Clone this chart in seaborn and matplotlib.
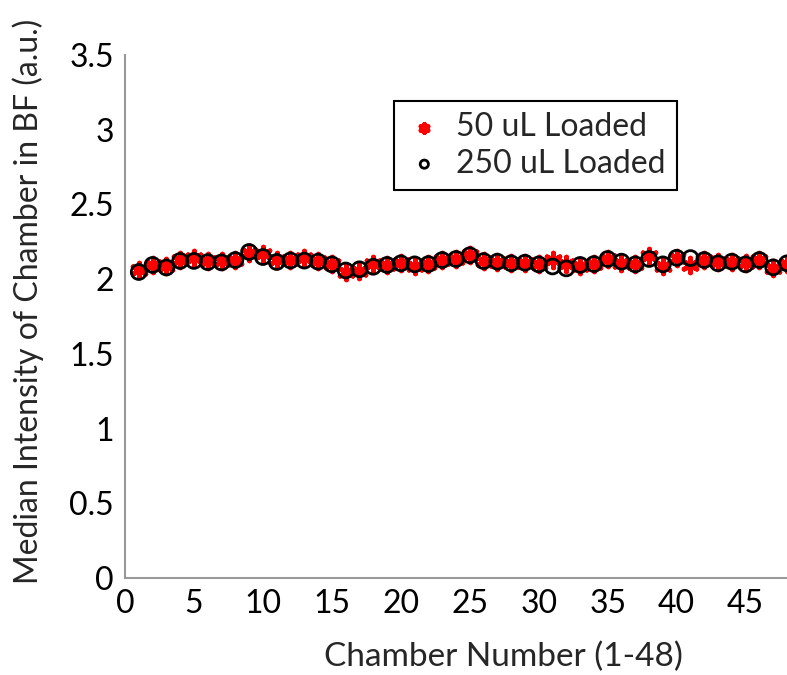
import numpy as np
import matplotlib
matplotlib.use("Agg")
import matplotlib.pyplot as plt
import pandas as pd
import seaborn as sns

# data
chamber = list(range(1, 49))
loaded_250 = [2.048, 2.095, 2.078, 2.122, 2.122, 2.114, 2.112, 2.128, 2.182, 2.148,
              2.115, 2.125, 2.124, 2.117, 2.099, 2.058, 2.066, 2.083, 2.095, 2.106,
              2.099, 2.101, 2.128, 2.135, 2.160, 2.121, 2.117, 2.106, 2.110, 2.099,
              2.085, 2.072, 2.095, 2.101, 2.135, 2.117, 2.099, 2.135, 2.099, 2.143,
              2.141, 2.128, 2.106, 2.117, 2.099, 2.128, 2.079, 2.106]
loaded_50 = [2.060, 2.097, 2.090, 2.125, 2.140, 2.120, 2.120, 2.128, 2.175, 2.165,
             2.125, 2.128, 2.140, 2.120, 2.100, 2.050, 2.055, 2.100, 2.095, 2.106,
             2.090, 2.100, 2.128, 2.135, 2.160, 2.120, 2.117, 2.106, 2.110, 2.100,
             2.130, 2.100, 2.090, 2.100, 2.135, 2.110, 2.100, 2.155, 2.085, 2.140,
             2.095, 2.125, 2.115, 2.117, 2.110, 2.128, 2.075, 2.100]
x_ticks = [0, 5, 10, 15, 20, 25, 30, 35, 40, 45]
y_ticks = [0, 0.5, 1, 1.5, 2, 2.5, 3, 3.5]

sns.set_style("white")
plt.rcParams['font.family'] = ['Lato', 'DejaVu Sans']
fs = 23

df = pd.DataFrame({"chamber": chamber, "50 uL Loaded": loaded_50, "250 uL Loaded": loaded_250})

fig = plt.figure(figsize=(7.87, 6.75), dpi=100)
ax = fig.add_axes([0.1588, 0.1437, 0.8412, 0.7748])

asterisk = (6, 2, 0)
sns.scatterplot(x="chamber", y="50 uL Loaded", data=df, ax=ax, marker=asterisk,
                color="red", s=115, linewidth=3.4, label="50 uL Loaded", zorder=2)
sns.scatterplot(x="chamber", y="250 uL Loaded", data=df, ax=ax, marker="o",
                facecolor="none", edgecolor="black", s=115, linewidth=2.0,
                label="250 uL Loaded", zorder=3)

ax.set_xlim(0, 48)
ax.set_ylim(0, 3.5)
ax.set_xticks(x_ticks)
ax.set_yticks(y_ticks)
ax.set_yticklabels(["0", "0.5", "1", "1.5", "2", "2.5", "3", "3.5"])
ax.tick_params(axis="both", direction="in", length=6, width=1, color="0.45",
               labelsize=fs, pad=8, labelcolor="black")
ax.set_xlabel("Chamber Number (1-48)", fontsize=24, va="center")
ax.xaxis.set_label_coords(0.572, -0.151)
ax.set_ylabel("Median Intensity of Chamber in BF (a.u.)", fontsize=fs, va="center")
ax.yaxis.set_label_coords(-0.146, 0.528)

for side in ["top", "right"]:
    ax.spines[side].set_visible(False)
for side in ["left", "bottom"]:
    ax.spines[side].set_color("0.6")
    ax.spines[side].set_linewidth(1.5)

leg = ax.legend(loc="upper left", bbox_to_anchor=(378 / 787, 1 - 85 / 675),
                bbox_transform=fig.transFigure, fontsize=fs, frameon=True,
                fancybox=False, edgecolor="black", framealpha=1,
                handletextpad=0.4, borderpad=0.35, labelspacing=0.2,
                markerscale=0.55, handlelength=1.2)
leg.get_frame().set_linewidth(1.5)

fig.savefig("out.png", dpi=100)
